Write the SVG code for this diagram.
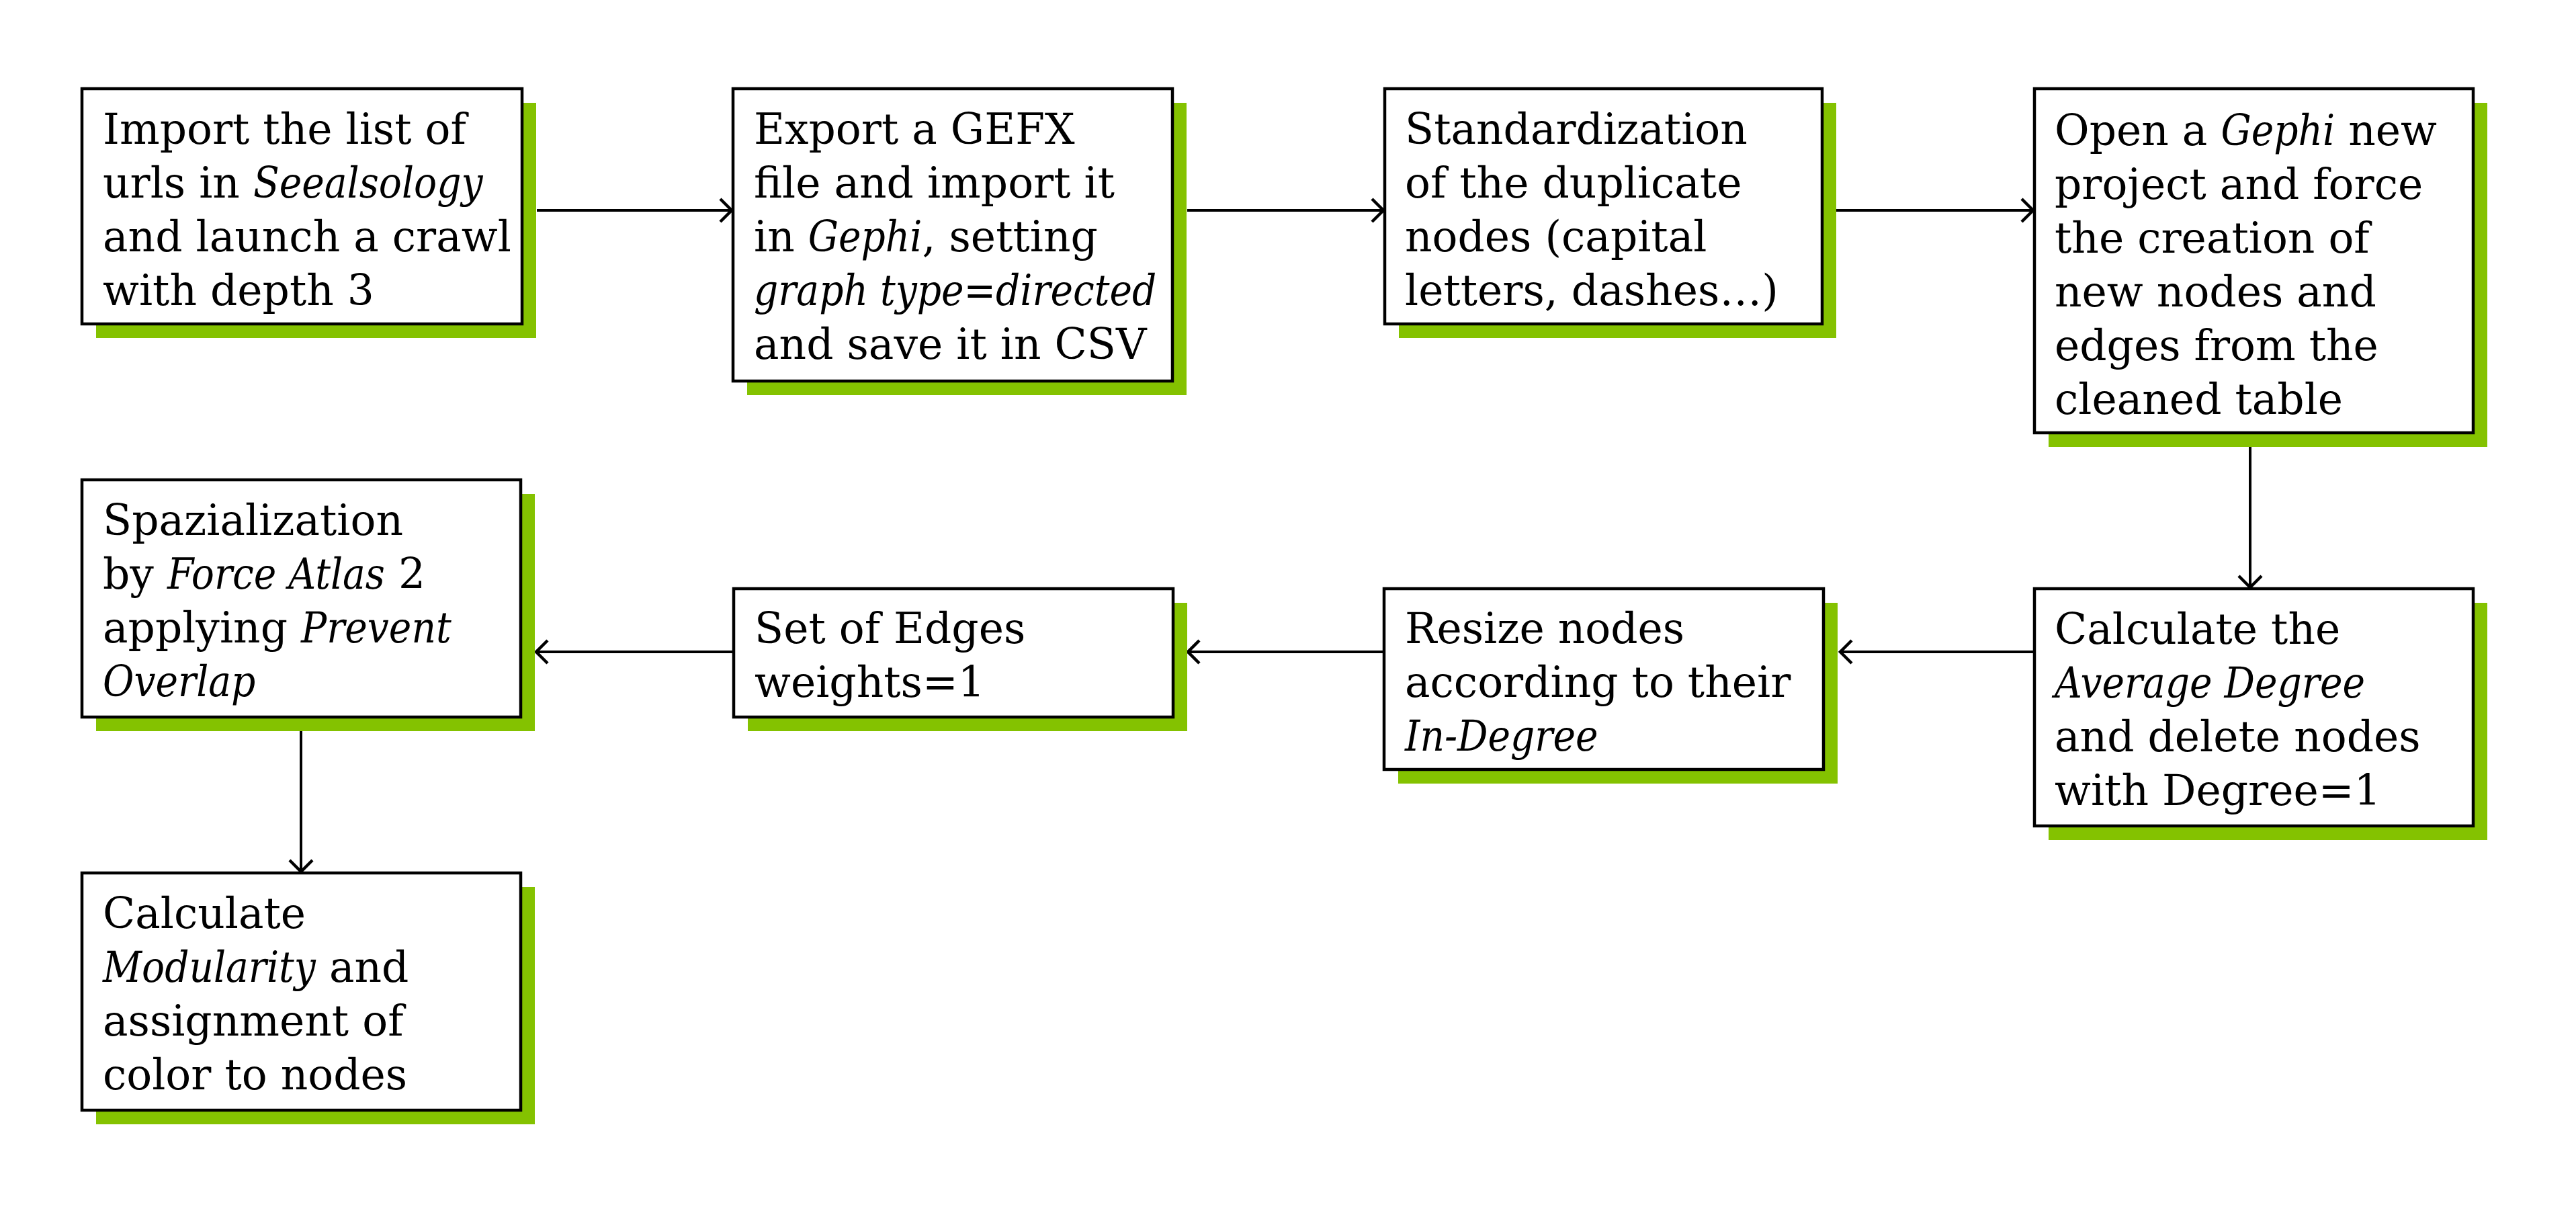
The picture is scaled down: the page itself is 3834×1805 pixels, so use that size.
<svg xmlns="http://www.w3.org/2000/svg" width="3834" height="1805" viewBox="0 0 3834 1805">
<defs>
<style>
.bg{fill:#ffffff}
.shadow{fill:#84C200}
.box{fill:#ffffff;stroke:#000000;stroke-width:4.5}
.t{font-family:"DejaVu Serif","Liberation Serif",serif;font-size:63px;fill:#000000}
.i{font-family:"DejaVu Serif Condensed","DejaVu Serif","Liberation Serif",serif;font-style:italic;font-stretch:condensed}
.conn{stroke:#000000;stroke-width:4;fill:none;marker-end:url(#arr)}
</style>
<marker id="arr" markerUnits="userSpaceOnUse" markerWidth="40" markerHeight="40" viewBox="-20 -20 40 40" refX="0" refY="0" orient="auto" overflow="visible">
<path d="M-17,-17 L0,0 L-17,17" fill="none" stroke="#000000" stroke-width="4.5"/>
</marker>
</defs>
<rect class="bg" x="0" y="0" width="3834" height="1805"/>

<g id="connectors">
<line class="conn" x1="799" y1="313" x2="1089" y2="313"/>
<line class="conn" x1="1767" y1="313" x2="2059" y2="313"/>
<line class="conn" x1="2733" y1="313" x2="3026" y2="313"/>
<line class="conn" x1="3349" y1="665" x2="3349" y2="874"/>
<line class="conn" x1="3028" y1="970" x2="2739" y2="970"/>
<line class="conn" x1="2060" y1="970" x2="1768" y2="970"/>
<line class="conn" x1="1092" y1="970" x2="798" y2="970"/>
<line class="conn" x1="448" y1="1088" x2="448" y2="1297"/>
</g>

<g id="n1">
<rect class="shadow" x="143" y="153" width="655" height="350"/>
<rect class="box" x="122" y="132" width="655" height="350"/>
<text class="t" x="153" y="214">Import the list of</text>
<text class="t" x="153" y="294">urls in <tspan class="i">Seealsology</tspan></text>
<text class="t" x="153" y="374">and launch a crawl</text>
<text class="t" x="153" y="454">with depth 3</text>
</g>

<g id="n2">
<rect class="shadow" x="1112" y="153" width="654" height="435"/>
<rect class="box" x="1091" y="132" width="654" height="435"/>
<text class="t" x="1122" y="214">Export a GEFX</text>
<text class="t" x="1122" y="294">file and import it</text>
<text class="t" x="1122" y="374">in <tspan class="i">Gephi</tspan>, setting</text>
<text class="t i" x="1122" y="454">graph type=directed</text>
<text class="t" x="1122" y="534">and save it in CSV</text>
</g>

<g id="n3">
<rect class="shadow" x="2082" y="153" width="651" height="350"/>
<rect class="box" x="2061" y="132" width="651" height="350"/>
<text class="t" x="2091" y="214">Standardization</text>
<text class="t" x="2091" y="294">of the duplicate</text>
<text class="t" x="2091" y="374">nodes (capital</text>
<text class="t" x="2091" y="454">letters, dashes…)</text>
</g>

<g id="n4">
<rect class="shadow" x="3049" y="153" width="653" height="512"/>
<rect class="box" x="3028" y="132" width="653" height="512"/>
<text class="t" x="3058" y="216">Open a <tspan class="i">Gephi</tspan> new</text>
<text class="t" x="3058" y="296">project and force</text>
<text class="t" x="3058" y="376">the creation of</text>
<text class="t" x="3058" y="456">new nodes and</text>
<text class="t" x="3058" y="536">edges from the</text>
<text class="t" x="3058" y="616">cleaned table</text>
</g>

<g id="n5">
<rect class="shadow" x="3049" y="897" width="653" height="353"/>
<rect class="box" x="3028" y="876" width="653" height="353"/>
<text class="t" x="3058" y="958">Calculate the</text>
<text class="t i" x="3058" y="1038">Average Degree</text>
<text class="t" x="3058" y="1118">and delete nodes</text>
<text class="t" x="3058" y="1198">with Degree=1</text>
</g>

<g id="n6">
<rect class="shadow" x="2081" y="897" width="654" height="269"/>
<rect class="box" x="2060" y="876" width="654" height="269"/>
<text class="t" x="2091" y="957">Resize nodes</text>
<text class="t" x="2091" y="1037">according to their</text>
<text class="t i" x="2091" y="1117">In-Degree</text>
</g>

<g id="n7">
<rect class="shadow" x="1113" y="897" width="654" height="191"/>
<rect class="box" x="1092" y="876" width="654" height="191"/>
<text class="t" x="1123" y="957">Set of Edges</text>
<text class="t" x="1123" y="1037">weights=1</text>
</g>

<g id="n8">
<rect class="shadow" x="143" y="735" width="653" height="353"/>
<rect class="box" x="122" y="714" width="653" height="353"/>
<text class="t" x="153" y="796">Spazialization</text>
<text class="t" x="153" y="876">by <tspan class="i">Force Atlas</tspan> 2</text>
<text class="t" x="153" y="956">applying <tspan class="i">Prevent</tspan></text>
<text class="t i" x="153" y="1036">Overlap</text>
</g>

<g id="n9">
<rect class="shadow" x="143" y="1320" width="653" height="353"/>
<rect class="box" x="122" y="1299" width="653" height="353"/>
<text class="t" x="153" y="1381">Calculate</text>
<text class="t" x="153" y="1461"><tspan class="i">Modularity</tspan> and</text>
<text class="t" x="153" y="1541">assignment of</text>
<text class="t" x="153" y="1621">color to nodes</text>
</g>
</svg>
